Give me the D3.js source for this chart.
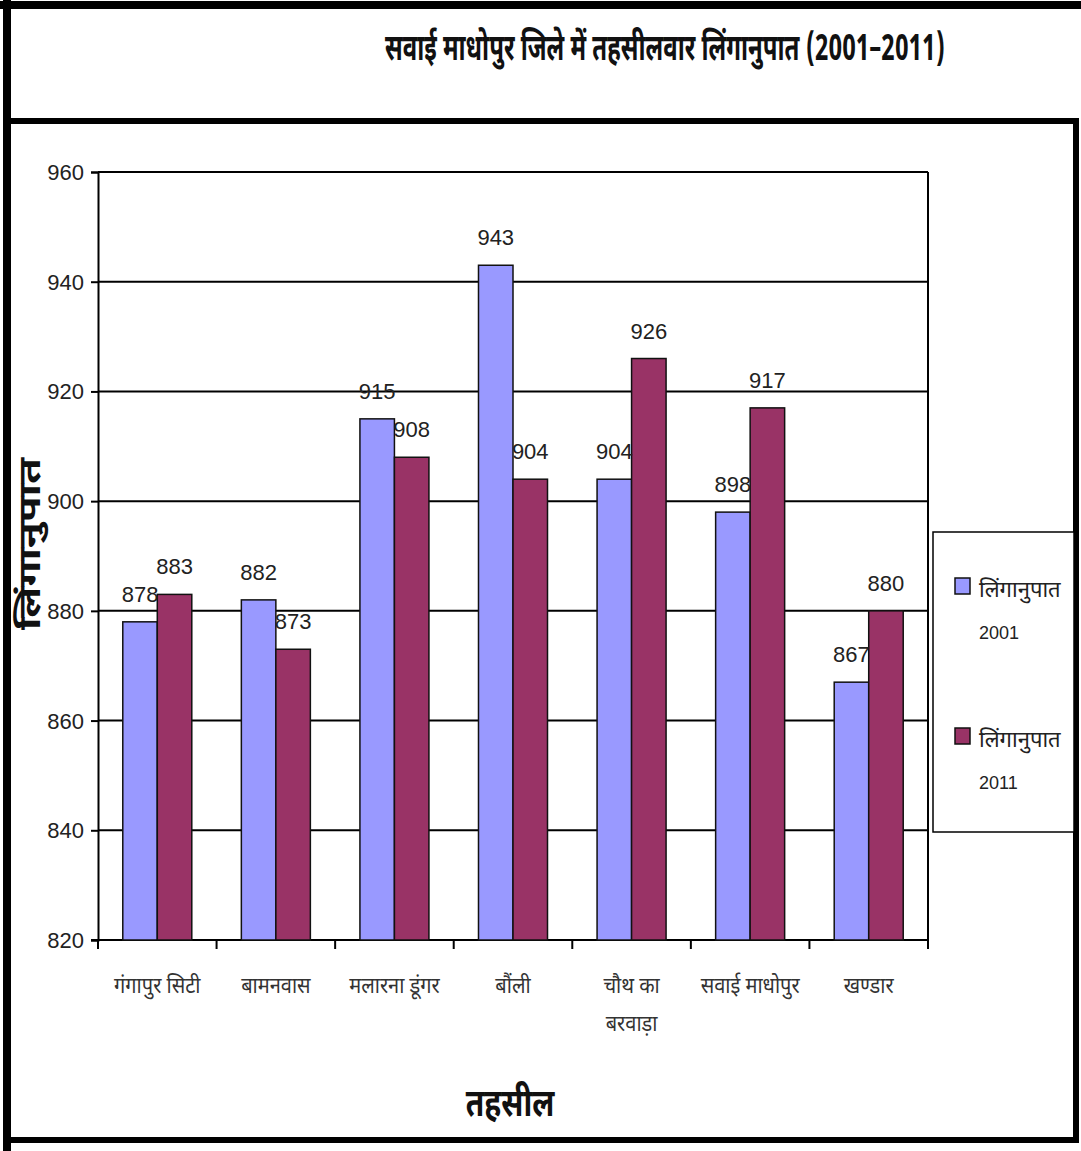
<!DOCTYPE html>
<html>
<head>
<meta charset="utf-8">
<script src="https://cdn.jsdelivr.net/npm/d3@7"></script>
<style>
  body { margin: 0; background: #fff; }
  svg { display: block; }
  text { font-family: "Noto Sans Devanagari", "Noto Sans", "Liberation Sans", sans-serif; }
  .num { font-family: "Liberation Sans", Arial, sans-serif; }
</style>
</head>
<body>
<div id="root"></div>
<script>
'use strict';

// tehsil names
var categories = ['गंगापुर सिटी', 'बामनवास', 'मलारना डूंगर', 'बौंली', 'चौथ का बरवाड़ा', 'सवाई माधोपुर', 'खण्डार'];
// sex ratio per tehsil
var ratio2001 = [878, 882, 915, 943, 904, 898, 867];
var ratio2011 = [883, 873, 908, 904, 926, 917, 880];
var seriesNames = ['लिंगानुपात 2001', 'लिंगानुपात 2011'];
var yTicks = [820, 840, 860, 880, 900, 920, 940, 960];

var W = 1081, H = 1151;
var colors = ['#9999FF', '#993366'];

var svg = d3.select('#root').append('svg').attr('width', W).attr('height', H);

// frames
svg.append('rect').attr('x', 0).attr('y', 0).attr('width', W).attr('height', H).attr('fill', '#fff');
svg.append('line').attr('x1', 0).attr('y1', 5).attr('x2', W).attr('y2', 5)
  .attr('stroke', '#000').attr('stroke-width', 8);
svg.append('line').attr('x1', 7).attr('y1', 0).attr('x2', 7).attr('y2', H)
  .attr('stroke', '#000').attr('stroke-width', 8);
svg.append('path')
  .attr('d', 'M7,121 H1076 V1140 H7')
  .attr('fill', 'none').attr('stroke', '#000').attr('stroke-width', 6);

// title (tall, condensed look)
svg.append('text')
  .attr('transform', 'translate(665,60) scale(1,1.3)')
  .attr('text-anchor', 'middle')
  .attr('font-size', 28).attr('font-weight', 'bold').attr('fill', '#111')
  .attr('textLength', 560).attr('lengthAdjust', 'spacingAndGlyphs')
  .text('सवाई माधोपुर जिले में तहसीलवार लिंगानुपात (2001–2011)');

var plotL = 98, plotR = 928, plotT = 172, plotB = 940;

var y = d3.scaleLinear().domain([820, 960]).range([plotB, plotT]);
var x0 = d3.scaleBand().domain(categories).range([plotL, plotR]).paddingInner(0.418).paddingOuter(0.209);
var x1 = d3.scaleBand().domain([0, 1]).range([0, x0.bandwidth()]);

// gridlines
svg.append('g').selectAll('line').data(yTicks).enter().append('line')
  .attr('x1', plotL).attr('x2', plotR)
  .attr('y1', function (d) { return y(d); })
  .attr('y2', function (d) { return y(d); })
  .attr('stroke', '#000').attr('stroke-width', 2);

// right border of plot area
svg.append('line').attr('x1', plotR).attr('x2', plotR).attr('y1', plotT).attr('y2', plotB + 8)
  .attr('stroke', '#000').attr('stroke-width', 2);

// y axis
var yAxis = svg.append('g').attr('transform', 'translate(' + plotL + ',0)')
  .call(d3.axisLeft(y).tickValues(yTicks).tickSize(7).tickPadding(7).tickFormat(d3.format('d')));
yAxis.select('.domain').attr('stroke', '#000').attr('stroke-width', 2);
yAxis.selectAll('.tick line').attr('stroke', '#000').attr('stroke-width', 2);
yAxis.selectAll('.tick text').attr('class', 'num').attr('font-size', 22).attr('fill', '#222')
  .attr('dy', '0.34em');

// x axis with ticks between categories
var boundaries = categories.map(function (c, i) { return plotL + i * x0.step(); }).concat([plotR]);
var xAxis = svg.append('g').attr('transform', 'translate(0,' + plotB + ')');
xAxis.append('line').attr('x1', plotL - 7).attr('x2', plotR).attr('y1', 0).attr('y2', 0)
  .attr('stroke', '#000').attr('stroke-width', 2);
xAxis.selectAll('line.tk').data(boundaries).enter().append('line').attr('class', 'tk')
  .attr('x1', function (d) { return d; }).attr('x2', function (d) { return d; })
  .attr('y1', 0).attr('y2', 9)
  .attr('stroke', '#000').attr('stroke-width', 2);

// category labels
var catG = svg.append('g');
categories.forEach(function (c) {
  var cx = x0(c) + x0.bandwidth() / 2;
  var lines = c === 'चौथ का बरवाड़ा' ? ['चौथ का', 'बरवाड़ा'] : [c];
  lines.forEach(function (l, j) {
    catG.append('text')
      .attr('transform', 'translate(' + cx + ',' + (993 + j * 38) + ') scale(1,1.15)')
      .attr('text-anchor', 'middle')
      .attr('font-size', 20).attr('fill', '#333')
      .text(l);
  });
});

// bars
var groups = svg.append('g').selectAll('g').data(categories).enter().append('g')
  .attr('transform', function (d) { return 'translate(' + x0(d) + ',0)'; });

groups.selectAll('rect').data(function (d, i) { return [ratio2001[i], ratio2011[i]]; })
  .enter().append('rect')
  .attr('x', function (d, j) { return x1(j); })
  .attr('y', function (d) { return y(d); })
  .attr('width', x1.bandwidth())
  .attr('height', function (d) { return plotB - y(d); })
  .attr('fill', function (d, j) { return colors[j]; })
  .attr('stroke', '#111').attr('stroke-width', 1.5);

groups.selectAll('text').data(function (d, i) { return [ratio2001[i], ratio2011[i]]; })
  .enter().append('text')
  .attr('class', 'num')
  .attr('x', function (d, j) { return x1(j) + x1.bandwidth() / 2; })
  .attr('y', function (d) { return y(d) - 20; })
  .attr('text-anchor', 'middle')
  .attr('font-size', 22).attr('fill', '#222')
  .text(function (d) { return d; });

// y axis title
svg.append('text')
  .attr('transform', 'translate(40,544) rotate(-90)')
  .attr('text-anchor', 'middle')
  .attr('font-size', 30).attr('font-weight', 'bold').attr('fill', '#111')
  .attr('textLength', 172).attr('lengthAdjust', 'spacingAndGlyphs')
  .text('लिंगानुपात');

// x axis title
svg.append('text')
  .attr('transform', 'translate(510,1116) scale(1,1.3)')
  .attr('text-anchor', 'middle')
  .attr('font-size', 30).attr('font-weight', 'bold').attr('fill', '#111')
  .text('तहसील');

// legend
var lg = svg.append('g');
lg.append('rect').attr('x', 933).attr('y', 532).attr('width', 141).attr('height', 300)
  .attr('fill', '#fff').attr('stroke', '#000').attr('stroke-width', 1.5);
seriesNames.forEach(function (s, i) {
  var yy = 578 + i * 150;
  var parts = s.split(' ');
  lg.append('rect').attr('x', 955).attr('y', yy).attr('width', 15).attr('height', 16)
    .attr('fill', colors[i]).attr('stroke', '#111').attr('stroke-width', 1.5);
  lg.append('text').attr('x', 979).attr('y', yy + 19)
    .attr('font-size', 22).attr('fill', '#222').text(parts[0]);
  lg.append('text').attr('class', 'num').attr('x', 979).attr('y', yy + 61)
    .attr('font-size', 18).attr('fill', '#222').text(parts[1]);
});
</script>
</body>
</html>
